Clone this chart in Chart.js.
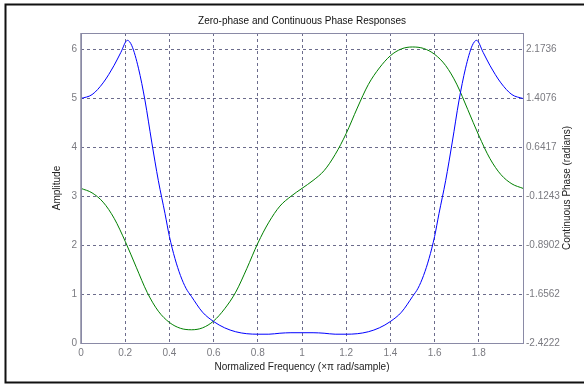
<!DOCTYPE html>
<html>
<head>
<meta charset="utf-8">
<script src="https://cdn.jsdelivr.net/npm/chart.js@4"></script>
<style>
  html, body { margin: 0; padding: 0; background: #fff; }
  canvas { display: block; }
</style>
</head>
<body>
<canvas id="zp-chart" width="584" height="385"></canvas>
<script>
// amplitude (zero-phase response), left axis
const ampFreq = [0, 0.05, 0.1, 0.15, 0.18, 0.21, 0.23, 0.26, 0.29, 0.32, 0.35, 0.38, 0.4, 0.425, 0.45, 0.475, 0.5, 0.55, 0.6, 0.65, 0.7, 0.75, 0.8, 0.85, 0.9, 0.95, 1.0,
    1.05, 1.1, 1.15, 1.2, 1.25, 1.3, 1.35, 1.4, 1.45, 1.5, 1.525, 1.55, 1.575, 1.6, 1.62, 1.65, 1.68, 1.71, 1.74, 1.77, 1.79, 1.82, 1.85, 1.9, 1.95, 2.0];
const amplitude = [5.00, 5.08, 5.32, 5.68, 5.94, 6.19, 6.08, 5.62, 4.95, 4.11, 3.32, 2.65, 2.18, 1.73, 1.38, 1.12, 0.95, 0.63, 0.44, 0.31, 0.23, 0.19, 0.18, 0.18, 0.2, 0.21, 0.21,
    0.21, 0.2, 0.18, 0.18, 0.19, 0.23, 0.31, 0.44, 0.63, 0.95, 1.12, 1.38, 1.73, 2.18, 2.65, 3.32, 4.11, 4.95, 5.62, 6.08, 6.19, 5.94, 5.68, 5.32, 5.08, 5.00];

// continuous phase in radians, right axis
const phaseFreq = [0, 0.05, 0.1, 0.15, 0.2, 0.25, 0.3, 0.35, 0.4, 0.45, 0.5, 0.55, 0.6, 0.65, 0.7, 0.75, 0.8, 0.85, 0.9, 0.95, 1.0,
    1.05, 1.1, 1.15, 1.2, 1.25, 1.3, 1.35, 1.4, 1.45, 1.5, 1.55, 1.6, 1.65, 1.7, 1.75, 1.8, 1.85, 1.9, 1.95, 2.0];
const phase = [0, -0.07, -0.216, -0.469, -0.829, -1.235, -1.633, -1.924, -2.1, -2.192, -2.215, -2.185, -2.078, -1.886, -1.626, -1.258, -0.86, -0.53, -0.278, -0.124, 0,
    0.124, 0.278, 0.53, 0.86, 1.258, 1.626, 1.886, 2.078, 2.185, 2.215, 2.192, 2.1, 1.924, 1.633, 1.235, 0.829, 0.469, 0.216, 0.07, 0];

const freqTicks = [0, 0.2, 0.4, 0.6, 0.8, 1, 1.2, 1.4, 1.6, 1.8];
const ampTicks = [0, 1, 2, 3, 4, 5, 6];
const phaseTicks = [-2.4222, -1.6562, -0.8902, -0.1243, 0.6417, 1.4076, 2.1736];

const titleText = 'Zero-phase and Continuous Phase Responses';
const phaseLabel = 'Continuous Phase (radians)';
const font = "'Liberation Sans', Arial, sans-serif";
const gridColor = '#6c6c8c';
const tickColor = '#7a7a80';

// outer frame, plot box, title and the right-hand axis label (reads bottom to top)
const framePlugin = {
    id: 'frame',
    beforeDraw(c) {
        const ctx = c.ctx;
        ctx.save();
        ctx.fillStyle = '#fff';
        ctx.fillRect(0, 0, c.width, c.height);
        ctx.strokeStyle = '#111';
        ctx.lineWidth = 2;
        ctx.beginPath();
        ctx.moveTo(c.width + 2, 4.5);
        ctx.lineTo(5.5, 4.5);
        ctx.lineTo(5.5, 382.5);
        ctx.lineTo(c.width + 2, 382.5);
        ctx.stroke();
        ctx.restore();
    },
    afterDatasetsDraw(c) {
        const ctx = c.ctx;
        const a = c.chartArea;
        ctx.save();
        ctx.strokeStyle = '#8a8aa6';
        ctx.lineWidth = 1;
        ctx.strokeRect(Math.round(a.left) + 0.5, Math.round(a.top) + 0.5, Math.round(a.right - a.left), Math.round(a.bottom - a.top));
        ctx.strokeStyle = '#a8a8b8';
        ctx.beginPath();
        ctx.moveTo(Math.round(a.left) - 0.5, a.top);
        ctx.lineTo(Math.round(a.left) - 0.5, a.bottom + 1);
        ctx.stroke();
        ctx.fillStyle = '#111';
        ctx.font = '10px ' + font;
        ctx.textAlign = 'center';
        ctx.textBaseline = 'middle';
        ctx.fillText(titleText, (a.left + a.right) / 2, 21.5);
        ctx.translate(567, (a.top + a.bottom) / 2);
        ctx.rotate(-Math.PI / 2);
        ctx.fillStyle = '#222';
        ctx.fillText(phaseLabel, 0, 0);
        ctx.restore();
    }
};

const ctx = document.getElementById('zp-chart');
new Chart(ctx, {
    type: 'line',
    data: {
        datasets: [{
            label: 'Amplitude',
            data: ampFreq.map((f, i) => ({ x: f, y: amplitude[i] })),
            borderColor: '#0000ff',
            borderWidth: 1,
            pointRadius: 0,
            cubicInterpolationMode: 'monotone',
            yAxisID: 'y'
        }, {
            label: 'Continuous Phase',
            data: phaseFreq.map((f, i) => ({ x: f, y: phase[i] })),
            borderColor: '#008000',
            borderWidth: 1,
            pointRadius: 0,
            cubicInterpolationMode: 'monotone',
            yAxisID: 'y2'
        }]
    },
    options: {
        responsive: false,
        animation: false,
        devicePixelRatio: 1,
        layout: { padding: { top: 33, left: 0, right: 0, bottom: 0 } },
        plugins: {
            legend: { display: false },
            tooltip: { enabled: false }
        },
        scales: {
            x: {
                type: 'linear',
                position: 'bottom',
                min: 0,
                max: 2,
                afterBuildTicks: (s) => { s.ticks = freqTicks.map(v => ({ value: v })); },
                afterFit: (s) => { s.height = 42; },
                ticks: {
                    color: tickColor,
                    font: { family: font, size: 10 },
                    padding: 4,
                    maxRotation: 0,
                    callback: (v) => String(Math.round(v * 10) / 10)
                },
                grid: {
                    color: gridColor,
                    drawTicks: false,
                    tickLength: 0
                },
                border: { display: false, dash: [3, 3] },
                title: {
                    display: true,
                    text: 'Normalized Frequency (\u00d7\u03c0 rad/sample)',
                    color: '#222',
                    font: { family: font, size: 10 },
                    padding: { top: 0, bottom: 12 }
                }
            },
            y: {
                position: 'left',
                min: 0,
                max: 6.34,
                afterBuildTicks: (s) => { s.ticks = ampTicks.map(v => ({ value: v })); },
                afterFit: (s) => { s.width = 81; },
                ticks: {
                    color: tickColor,
                    font: { family: font, size: 10 },
                    padding: 4
                },
                grid: {
                    color: gridColor,
                    drawTicks: false,
                    tickLength: 0
                },
                border: { display: false, dash: [3, 3] },
                title: {
                    display: true,
                    text: 'Amplitude',
                    color: '#222',
                    font: { family: font, size: 10 },
                    padding: { top: 51, bottom: 0 }
                }
            },
            y2: {
                position: 'right',
                min: -2.4222,
                max: 2.434,
                afterBuildTicks: (s) => { s.ticks = phaseTicks.map(v => ({ value: v })); },
                afterFit: (s) => { s.width = 61; },
                ticks: {
                    color: tickColor,
                    font: { family: font, size: 10 },
                    padding: 3,
                    callback: (v) => v.toFixed(4)
                },
                grid: { display: false, drawTicks: false },
                border: { display: false },
                title: { display: false }
            }
        }
    },
    plugins: [framePlugin]
});
</script>
</body>
</html>
